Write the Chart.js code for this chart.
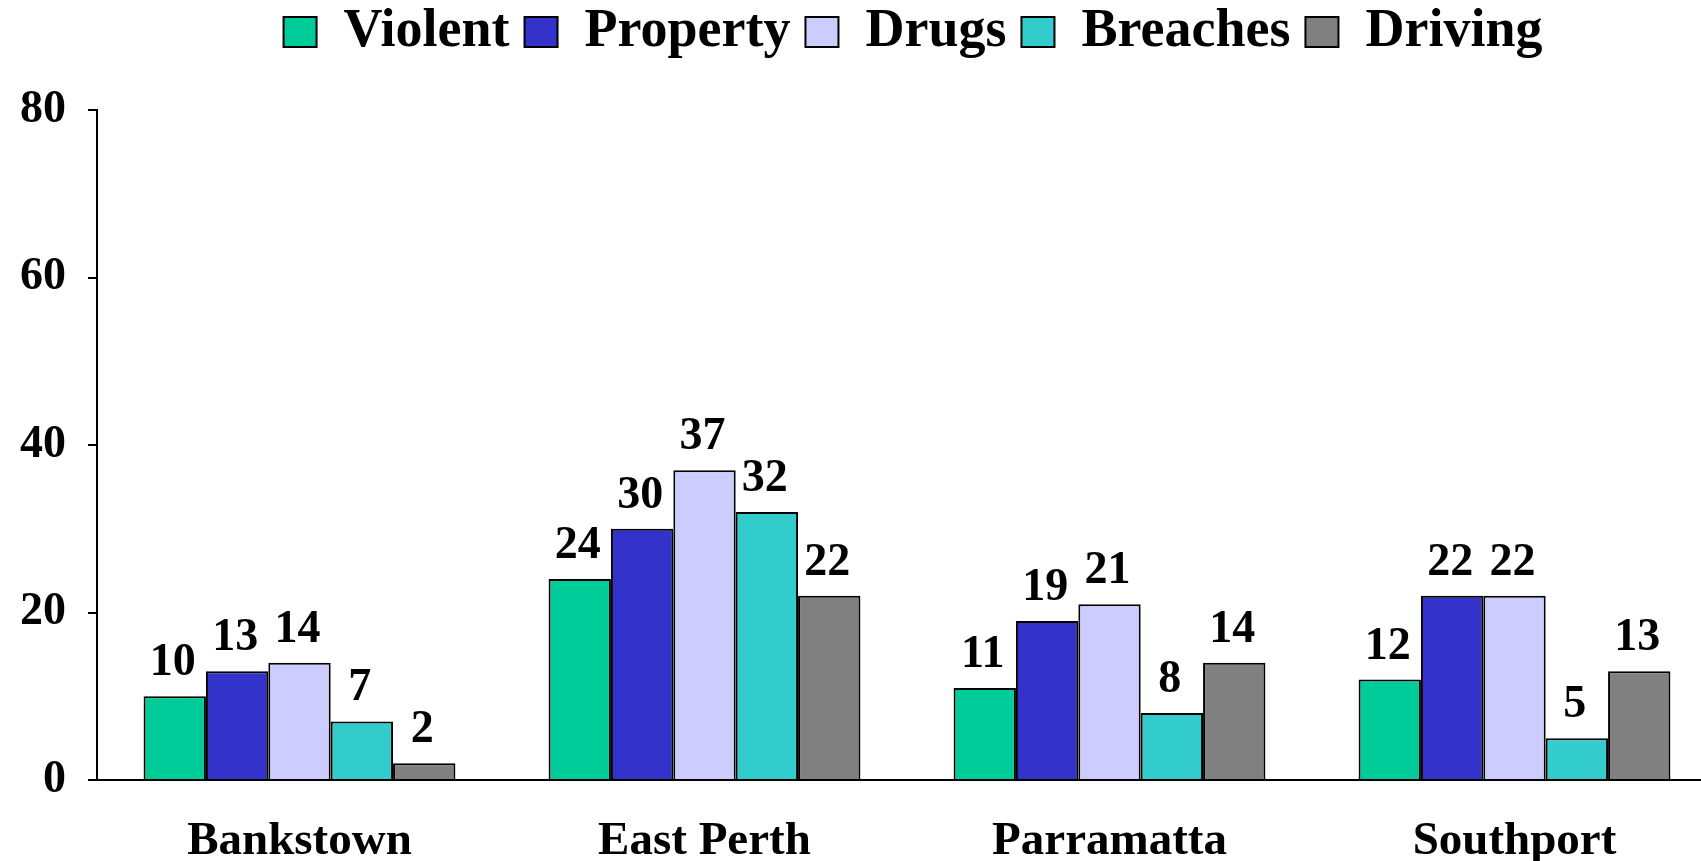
<!DOCTYPE html>
<html lang="en">
<head>
    <meta charset="UTF-8">
    <title>Offences by location</title>
    <script src="https://cdn.jsdelivr.net/npm/chart.js"></script>
    <style>
        html, body {
            margin: 0;
            padding: 0;
            background: #ffffff;
        }
        #wrap {
            width: 1701px;
            height: 861px;
        }
    </style>
</head>
<body>
    <div id="wrap"><canvas id="chart"></canvas></div>

    <script>
        // Data
        const locations = ['Bankstown', 'East Perth', 'Parramatta', 'Southport'];
        const violent = [10, 24, 11, 12];
        const property = [13, 30, 19, 22];
        const drugs = [14, 37, 21, 22];
        const breaches = [7, 32, 8, 5];
        const driving = [2, 22, 14, 13];

        const seriesNames = ['Violent', 'Property', 'Drugs', 'Breaches', 'Driving'];
        const seriesColours = ['#00CC99', '#3333CC', '#CCCCFF', '#33CCCC', '#808080'];
        const yTicks = [0, 20, 40, 60, 80];

        const serif = '"Liberation Serif", "Times New Roman", serif';

        // Numbers above each bar
        const barValues = {
            id: 'barValues',
            afterDatasetsDraw(chart) {
                const ctx = chart.ctx;
                ctx.save();
                ctx.font = 'bold 46px ' + serif;
                ctx.fillStyle = '#000';
                ctx.textAlign = 'center';
                ctx.textBaseline = 'alphabetic';
                chart.data.datasets.forEach((ds, i) => {
                    const meta = chart.getDatasetMeta(i);
                    meta.data.forEach((bar, j) => {
                        ctx.fillText(String(ds.data[j]), bar.x - 2, bar.y - 21);
                    });
                });
                ctx.restore();
            }
        };

        // the original plot runs a little past the right edge of the picture
        const stretchRight = {
            id: 'stretchRight',
            afterLayout(chart) {
                const xs = chart.scales.x;
                xs.right += 16;
                xs.width += 16;
                xs.configure();
                chart.chartArea.right += 16;
                chart.chartArea.width += 16;
                // keep the legend centred over the plot
                chart.legend.left += 14;
                chart.legend.right += 14;
            }
        };

        const allSeries = [violent, property, drugs, breaches, driving];
        const datasets = allSeries.map((values, i) => ({
            label: seriesNames[i],
            data: values,
            backgroundColor: seriesColours[i],
            borderColor: '#000',
            borderWidth: 2,
            barPercentage: 1.0,
            categoryPercentage: 0.77
        }));

        new Chart(document.getElementById('chart').getContext('2d'), {
            type: 'bar',
            data: { labels: locations, datasets: datasets },
            options: {
                responsive: true,
                maintainAspectRatio: false,
                animation: false,
                layout: {
                    padding: { top: -10, left: 0, right: 0, bottom: 0 }
                },
                plugins: {
                    tooltip: { enabled: false },
                    legend: {
                        position: 'top',
                        fullSize: false,
                        labels: {
                            color: '#000',
                            font: { family: serif, size: 54, weight: 'bold' },
                            boxWidth: 33,
                            boxHeight: 30,
                            padding: 15
                        }
                    },
                    // spacer between legend and plot
                    title: {
                        display: true,
                        text: '',
                        weight: 100,
                        font: { size: 1, lineHeight: 1 },
                        padding: { top: 0, bottom: 40 }
                    }
                },
                scales: {
                    x: {
                        grid: { display: false, drawTicks: false, tickLength: 0 },
                        border: { display: true, color: '#000', width: 2 },
                        ticks: {
                            color: '#000',
                            font: { family: serif, size: 47, weight: 'bold' },
                            padding: 34,
                            maxRotation: 0
                        },
                        afterFit(scale) { scale.height = 81; }
                    },
                    y: {
                        min: 0,
                        max: 80,
                        afterBuildTicks(scale) {
                            scale.ticks = yTicks.map(v => ({ value: v }));
                        },
                        grid: {
                            display: true,
                            drawOnChartArea: false,
                            drawTicks: true,
                            tickLength: 9,
                            color: '#000',
                            lineWidth: 2
                        },
                        border: { display: true, color: '#000', width: 2 },
                        ticks: {
                            color: '#000',
                            font: { family: serif, size: 46, weight: 'bold' },
                            padding: 22
                        },
                        afterFit(scale) { scale.width = 97; }
                    }
                }
            },
            plugins: [barValues, stretchRight]
        });
    </script>
</body>
</html>
